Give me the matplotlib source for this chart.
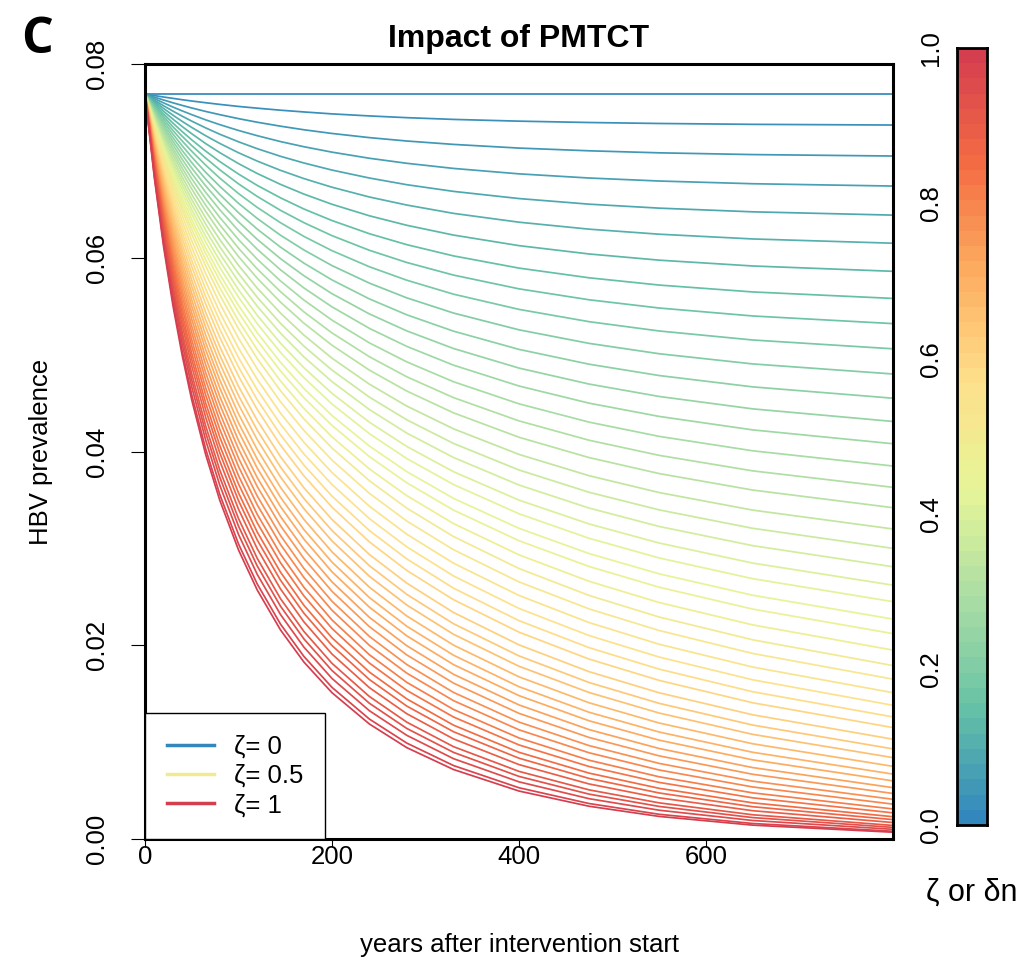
import numpy as np
import matplotlib
matplotlib.use("Agg")
import matplotlib.pyplot as plt
from matplotlib.colors import LinearSegmentedColormap
from matplotlib.lines import Line2D

# ---------------- data ----------------
years = [0, 10, 20, 30, 40, 50, 65, 80, 100, 120, 145, 170, 200, 240, 280, 330, 400, 475, 550, 650, 800]

zeta_values = [round(0.02 * k, 2) for k in range(51)]   # 0.00, 0.02, ..., 1.00

# HBV prevalence x 10^5, one row per zeta value (same order), one column per year above
prevalence_x1e5 = [
    [7690, 7690, 7690, 7690, 7690, 7690, 7690, 7690, 7690, 7690, 7690, 7690, 7690, 7690, 7690, 7690, 7690, 7690, 7690, 7690, 7690],
    [7690, 7674, 7659, 7645, 7631, 7618, 7600, 7583, 7562, 7544, 7523, 7505, 7485, 7464, 7446, 7428, 7410, 7396, 7386, 7377, 7370],
    [7690, 7658, 7628, 7599, 7572, 7546, 7510, 7477, 7436, 7399, 7358, 7321, 7283, 7240, 7205, 7170, 7132, 7104, 7083, 7065, 7050],
    [7690, 7643, 7598, 7555, 7515, 7477, 7423, 7374, 7314, 7260, 7199, 7146, 7090, 7027, 6975, 6922, 6866, 6823, 6792, 6764, 6740],
    [7690, 7627, 7568, 7513, 7460, 7410, 7340, 7275, 7197, 7126, 7047, 6978, 6905, 6823, 6754, 6685, 6611, 6553, 6512, 6474, 6440],
    [7690, 7613, 7540, 7471, 7406, 7345, 7259, 7180, 7084, 6998, 6902, 6817, 6728, 6627, 6544, 6458, 6367, 6295, 6243, 6194, 6150],
    [7690, 7598, 7511, 7430, 7353, 7280, 7178, 7085, 6972, 6870, 6757, 6657, 6552, 6433, 6335, 6234, 6125, 6039, 5975, 5915, 5860],
    [7690, 7583, 7483, 7389, 7300, 7217, 7100, 6993, 6864, 6747, 6618, 6503, 6384, 6248, 6135, 6019, 5893, 5793, 5718, 5647, 5580],
    [7690, 7570, 7457, 7351, 7252, 7158, 7028, 6908, 6763, 6633, 6489, 6362, 6228, 6077, 5951, 5821, 5679, 5566, 5481, 5399, 5320],
    [7690, 7556, 7431, 7313, 7203, 7099, 6955, 6822, 6663, 6520, 6361, 6220, 6073, 5907, 5768, 5624, 5467, 5340, 5244, 5151, 5060],
    [7690, 7542, 7404, 7275, 7153, 7040, 6881, 6737, 6562, 6406, 6232, 6080, 5919, 5738, 5586, 5429, 5256, 5116, 5009, 4904, 4800],
    [7690, 7529, 7378, 7237, 7105, 6982, 6810, 6653, 6465, 6296, 6109, 5944, 5771, 5575, 5411, 5242, 5054, 4901, 4784, 4667, 4550],
    [7690, 7515, 7352, 7201, 7059, 6926, 6741, 6573, 6371, 6190, 5990, 5814, 5629, 5420, 5245, 5063, 4861, 4696, 4568, 4440, 4310],
    [7690, 7502, 7328, 7165, 7013, 6871, 6674, 6495, 6280, 6088, 5875, 5688, 5493, 5271, 5085, 4891, 4676, 4499, 4362, 4223, 4080],
    [7690, 7489, 7302, 7129, 6967, 6816, 6607, 6416, 6188, 5985, 5760, 5563, 5356, 5121, 4925, 4720, 4492, 4303, 4156, 4007, 3850],
    [7690, 7476, 7278, 7094, 6922, 6762, 6541, 6340, 6099, 5885, 5649, 5441, 5224, 4978, 4771, 4556, 4316, 4116, 3960, 3800, 3630],
    [7690, 7463, 7254, 7059, 6878, 6710, 6477, 6266, 6013, 5789, 5541, 5324, 5097, 4840, 4624, 4399, 4147, 3937, 3772, 3602, 3420],
    [7690, 7450, 7228, 7022, 6831, 6653, 6409, 6187, 5922, 5687, 5428, 5201, 4963, 4695, 4469, 4234, 3970, 3750, 3576, 3395, 3200],
    [7690, 7437, 7204, 6988, 6787, 6601, 6345, 6113, 5837, 5592, 5322, 5087, 4840, 4561, 4327, 4083, 3809, 3579, 3397, 3207, 3000],
    [7690, 7424, 7180, 6954, 6745, 6550, 6283, 6042, 5755, 5500, 5221, 4976, 4721, 4433, 4190, 3938, 3654, 3416, 3226, 3028, 2810],
    [7690, 7411, 7155, 6919, 6700, 6498, 6220, 5969, 5670, 5406, 5117, 4864, 4600, 4302, 4052, 3791, 3498, 3252, 3055, 2848, 2620],
    [7690, 7399, 7132, 6887, 6660, 6449, 6161, 5901, 5593, 5320, 5022, 4762, 4490, 4184, 3927, 3659, 3357, 3104, 2901, 2687, 2450],
    [7690, 7386, 7107, 6851, 6615, 6396, 6097, 5828, 5508, 5227, 4919, 4650, 4371, 4056, 3792, 3516, 3207, 2946, 2737, 2516, 2270],
    [7690, 7374, 7086, 6820, 6576, 6350, 6041, 5764, 5436, 5146, 4830, 4555, 4269, 3947, 3677, 3395, 3079, 2813, 2599, 2373, 2120],
    [7690, 7361, 7060, 6784, 6530, 6296, 5976, 5690, 5350, 5052, 4727, 4444, 4151, 3820, 3544, 3256, 2933, 2660, 2441, 2210, 1950],
    [7690, 7347, 7034, 6748, 6485, 6242, 5912, 5616, 5267, 4960, 4626, 4336, 4036, 3698, 3415, 3122, 2792, 2514, 2291, 2056, 1790],
    [7690, 7330, 7002, 6703, 6429, 6177, 5835, 5529, 5169, 4854, 4512, 4217, 3911, 3568, 3282, 2986, 2654, 2375, 2152, 1915, 1650],
    [7690, 7311, 6968, 6656, 6370, 6109, 5754, 5438, 5068, 4745, 4395, 4094, 3783, 3435, 3146, 2847, 2514, 2234, 2010, 1775, 1510],
    [7690, 7293, 6934, 6609, 6312, 6041, 5675, 5349, 4969, 4638, 4281, 3974, 3659, 3307, 3016, 2715, 2380, 2100, 1878, 1643, 1380],
    [7690, 7275, 6901, 6562, 6255, 5974, 5596, 5262, 4872, 4535, 4171, 3859, 3539, 3184, 2891, 2589, 2254, 1975, 1753, 1520, 1260],
    [7690, 7256, 6867, 6517, 6199, 5909, 5520, 5177, 4779, 4434, 4064, 3748, 3425, 3067, 2772, 2470, 2135, 1857, 1637, 1406, 1150],
    [7690, 7236, 6830, 6465, 6135, 5836, 5434, 5082, 4673, 4322, 3945, 3625, 3298, 2937, 2641, 2338, 2004, 1727, 1509, 1282, 1030],
    [7690, 7217, 6795, 6417, 6076, 5768, 5356, 4995, 4578, 4220, 3838, 3514, 3184, 2821, 2525, 2222, 1890, 1615, 1400, 1176, 930],
    [7690, 7198, 6761, 6370, 6019, 5702, 5280, 4911, 4486, 4122, 3736, 3409, 3077, 2712, 2415, 2113, 1783, 1512, 1300, 1080, 840],
    [7690, 7177, 6724, 6320, 5958, 5632, 5199, 4822, 4389, 4020, 3629, 3298, 2964, 2599, 2302, 2001, 1674, 1406, 1197, 983, 750],
    [7690, 7157, 6688, 6272, 5899, 5564, 5121, 4737, 4296, 3922, 3526, 3193, 2858, 2492, 2196, 1897, 1572, 1308, 1104, 895, 670],
    [7690, 7138, 6654, 6225, 5842, 5499, 5047, 4655, 4208, 3829, 3430, 3095, 2758, 2393, 2097, 1800, 1480, 1220, 1020, 817, 600],
    [7690, 7117, 6616, 6174, 5781, 5430, 4967, 4568, 4114, 3731, 3328, 2991, 2654, 2288, 1995, 1700, 1384, 1129, 934, 737, 530],
    [7690, 7097, 6581, 6126, 5723, 5364, 4892, 4486, 4026, 3639, 3233, 2895, 2557, 2192, 1900, 1609, 1297, 1048, 858, 668, 470],
    [7690, 7076, 6542, 6074, 5661, 5293, 4811, 4399, 3932, 3541, 3132, 2792, 2454, 2091, 1801, 1513, 1207, 964, 780, 597, 410],
    [7690, 7055, 6505, 6025, 5602, 5226, 4736, 4317, 3845, 3450, 3039, 2699, 2361, 1999, 1712, 1428, 1127, 890, 712, 537, 360],
    [7690, 7032, 6465, 5971, 5537, 5154, 4654, 4229, 3751, 3352, 2939, 2598, 2261, 1902, 1617, 1337, 1043, 813, 642, 476, 310],
    [7690, 7011, 6428, 5922, 5478, 5087, 4579, 4148, 3665, 3264, 2850, 2509, 2173, 1816, 1534, 1259, 971, 748, 584, 425, 270],
    [7690, 6988, 6387, 5867, 5414, 5014, 4498, 4061, 3573, 3169, 2753, 2412, 2077, 1723, 1446, 1175, 895, 680, 523, 373, 230],
    [7690, 6967, 6351, 5819, 5357, 4951, 4427, 3985, 3493, 3087, 2670, 2330, 1997, 1646, 1372, 1107, 834, 625, 475, 333, 200],
    [7690, 6944, 6311, 5767, 5294, 4881, 4349, 3901, 3405, 2997, 2580, 2241, 1909, 1562, 1293, 1033, 768, 568, 425, 292, 170],
    [7690, 6918, 6266, 5707, 5224, 4802, 4261, 3808, 3308, 2898, 2480, 2142, 1813, 1471, 1206, 953, 698, 507, 373, 250, 140],
    [7690, 6897, 6228, 5658, 5167, 4738, 4191, 3734, 3230, 2819, 2402, 2065, 1739, 1401, 1141, 894, 646, 463, 336, 221, 120],
    [7690, 6873, 6187, 5604, 5103, 4667, 4113, 3651, 3144, 2732, 2316, 1980, 1657, 1324, 1070, 829, 590, 416, 297, 191, 100],
    [7690, 6845, 6139, 5541, 5029, 4586, 4023, 3556, 3046, 2633, 2217, 1884, 1565, 1238, 990, 758, 529, 366, 255, 160, 80],
    [7690, 6826, 6107, 5500, 4981, 4532, 3965, 3496, 2984, 2571, 2157, 1826, 1510, 1187, 943, 717, 495, 338, 233, 143, 70],
]

y_ticks = [0.00, 0.02, 0.04, 0.06, 0.08]
y_tick_labels = ["0.00", "0.02", "0.04", "0.06", "0.08"]
x_ticks = [0, 200, 400, 600]
cbar_ticks = [0.0, 0.2, 0.4, 0.6, 0.8, 1.0]
cbar_tick_labels = ["0.0", "0.2", "0.4", "0.6", "0.8", "1.0"]
legend_zetas = [0.0, 0.5, 1.0]
legend_labels = ["ζ= 0", "ζ= 0.5", "ζ= 1"]
palette = ["#3288BD", "#66C2A5", "#ABDDA4", "#E6F598", "#FEE08B", "#FDAE61", "#F46D43", "#D53E4F"]

# ---------------- drawing ----------------
W, H = 1019, 964
cmap = LinearSegmentedColormap.from_list("spectral_ramp", palette)

plt.rcParams['font.family'] = ['Liberation Sans', 'DejaVu Sans']
fig = plt.figure(figsize=(W / 100, H / 100), dpi=100)
L, R, T, B = 145, 893, 64, 839
ax = fig.add_axes([L / W, 1 - B / H, (R - L) / W, (B - T) / H])

yrs = np.array(years, dtype=float)
for z, row in zip(zeta_values, prevalence_x1e5):
    ax.plot(yrs, np.array(row, dtype=float) / 1e5, color=cmap(float(z)), lw=1.25)

ax.set_xlim(0, 800)
ax.set_ylim(0, 0.08)
ax.set_xticks(x_ticks)
ax.set_yticks(y_ticks)
ax.set_yticklabels(y_tick_labels, rotation=90, va='center')
ax.tick_params(direction='out', width=0.8, labelsize=18.5)
ax.tick_params(axis='x', length=5.8, pad=-1.5)
ax.tick_params(axis='y', length=10, pad=16)
for s in ax.spines.values():
    s.set_linewidth(2.2)
ax.set_title("Impact of PMTCT", fontsize=23, fontweight='bold', pad=12)
ax.set_xlabel("years after intervention start", fontsize=18.5, labelpad=46)
ax.set_ylabel("HBV prevalence", fontsize=18.5, labelpad=23)

handles = [Line2D([], [], color=cmap(float(v)), lw=2.5) for v in legend_zetas]
leg = ax.legend(handles, legend_labels, loc='lower left', bbox_to_anchor=(0, 0),
                borderaxespad=0, fancybox=False, edgecolor='black', framealpha=1, fontsize=18.5,
                handlelength=1.85, handletextpad=0.75, borderpad=0.85, labelspacing=0.2)
leg.get_frame().set_linewidth(1.0)

# colour bar made of 51 blocks, one per zeta value
cax = fig.add_axes([957 / W, 1 - 825 / H, (987 - 957) / W, (825 - 48) / H])
edges = np.linspace(0, 1, len(zeta_values) + 1)
cax.pcolormesh([0, 1], edges, np.array(zeta_values)[:, None], cmap=cmap, vmin=0, vmax=1, shading='flat')
cax.set_xlim(0, 1)
cax.set_ylim(0, 1)
cax.set_xticks([])
cax.set_yticks(cbar_ticks)
cax.set_yticklabels(cbar_tick_labels, rotation=90, va='center')
cax.tick_params(axis='y', length=0, labelsize=18.5, pad=10)
for s in cax.spines.values():
    s.set_linewidth(2.0)

fig.text(972 / W, 1 - 893 / H, "ζ or δn", fontsize=22, ha='center', va='center')
fig.text(37 / W, 1 - 40 / H, "C", fontsize=36, fontweight='bold', ha='center', va='center',
         family=['Open Sans', 'DejaVu Sans'])

fig.savefig("out.png", dpi=100)
